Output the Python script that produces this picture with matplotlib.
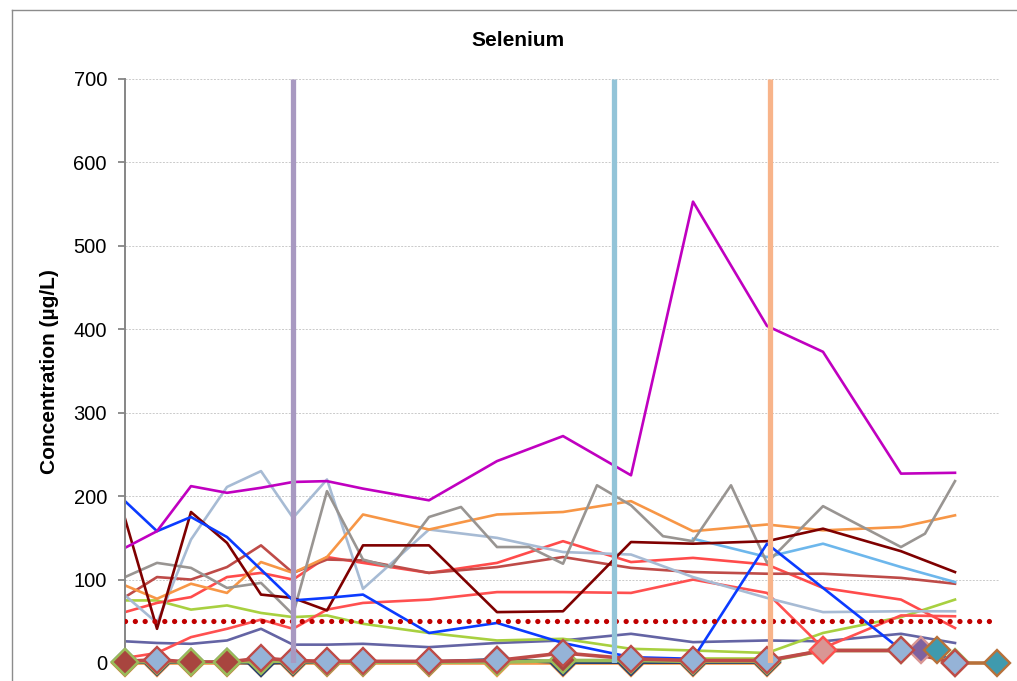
import matplotlib.pyplot as plt
from matplotlib.lines import Line2D

plt.rcParams['font.family'] = ['Liberation Sans', 'DejaVu Sans']

# sampling days (main sampling rounds)
days = [0, 16, 33, 51, 68, 84, 101, 119, 152, 186, 219, 253, 284, 321, 349, 388, 415]

# well series, Se in ug/L
se_magenta = [138, 158, 212, 204, 210, 217, 218, 209, 195, 242, 272, 225, 553, 404, 373, 227, 228]
se_blue = [194, 158, 175, 151, 112, 75, 78, 82, 36, 48, 24, 7, 5, 143, 90, 16, 5]
se_darkred = [173, 41, 181, 144, 82, 78, 63, 141, 141, 61, 62, 145, 143, 146, 161, 134, 109]
se_steel = [81, 48, 148, 211, 230, 174, 220, 89, 160, 150, 133, 130, 103, 78, 61, 62, 62]
se_orange = [93, 77, 95, 84, 121, 108, 127, 178, 160, 178, 181, 194, 158, 166, 159, 163, 177]
se_brick = [79, 103, 100, 115, 141, 108, 124, 123, 108, 115, 127, 114, 109, 107, 107, 102, 95]
se_red1 = [61, 72, 79, 103, 108, 100, 127, 120, 108, 120, 146, 121, 126, 118, 90, 76, 42]
se_red2 = [6, 12, 31, 41, 52, 41, 64, 72, 76, 85, 85, 84, 100, 84, 18, 57, 56]
se_lime = [75, 75, 64, 69, 60, 55, 57, 47, 36, 27, 29, 17, 15, 12, 36, 55, 76]
se_slate = [26, 24, 23, 27, 41, 22, 22, 23, 19, 24, 27, 35, 25, 27, 26, 35, 24]

# gray well was sampled more often
gray_days = [0, 16, 33, 51, 68, 84, 101, 119, 133, 152, 168, 186, 202, 219, 236, 253,
             269, 284, 303, 321, 349, 388, 400, 415]
se_gray = [103, 120, 114, 90, 96, 58, 206, 124, 115, 175, 187, 139, 139, 119, 213, 189,
           152, 146, 213, 120, 188, 139, 155, 218]

# late additions
sky_days = [284, 321, 349, 388, 415]
se_sky = [149, 127, 143, 115, 97]
lime2_days = [284, 321]
se_lime2 = [6, 6]

# wells near detection limit
low_navy = [1, 1, 1, 1, 0, 1, 1, 1, 1, 4, 1, 1, 1, 1]
low_orange = [0, 0, 0, 0, 0, 0, 0, 0, 0, 0, 0, 0, 0, 0]
low_olive = [1, 2, 1, 1, 2, 2, 1, 1, 1, 1, 3, 3, 2, 2, 15, 15, 1]
low_red = [2, 4, 1, 1, 6, 3, 2, 2, 2, 3, 12, 5, 3, 3, 15, 15, 0]
pink_day, se_pink = 349, 16
purple_day, se_purple = 398, 16
teal_day, se_teal = 406, 16
teal2_days = [415, 436]
se_teal2 = [0, 0]

limit = 50
events = [84, 244.5, 322.5]
event_colors = ['#A899C1', '#93C4D8', '#F8B48A']

fig = plt.figure(figsize=(10.17, 6.81), dpi=100)
ax = fig.add_axes([125 / 1017, 1 - 663 / 681, 874 / 1017, 584 / 681])

lw = 1.9
ax.plot(days, se_slate, color='#6464A4', lw=lw)
ax.plot(days, se_lime, color='#A8D040', lw=lw)
ax.plot(lime2_days, se_lime2, color='#A8D040', lw=lw)
ax.plot(days, se_red2, color='#FF5050', lw=lw)
ax.plot(days, se_red1, color='#FF4B4B', lw=lw)
ax.plot(days, se_brick, color='#BE4B48', lw=lw)
ax.plot(sky_days, se_sky, color='#6DB7EC', lw=lw)
ax.plot(days, se_steel, color='#A7BBD4', lw=lw)
ax.plot(days, se_orange, color='#F79646', lw=lw)
ax.plot(gray_days, se_gray, color='#999592', lw=lw)
ax.plot(days, se_darkred, color='#7F0000', lw=lw)
ax.plot(days, se_blue, color='#0B3BFF', lw=lw)
ax.plot(days, se_magenta, color='#C000C0', lw=lw)

# low-concentration wells with markers
mk = dict(marker='D', ms=13, mew=1.7, clip_on=False)
ax.plot(days[:14], low_orange, color='#F79646', mfc='#F79646', mec='#F79646', lw=2.6, **mk)
ax.plot(days[:14], low_navy, color='#243F73', mfc='#95B3D7', mec='#243F73', lw=2.6, **mk)
ax.plot(days, low_olive, color='#9BBB59', mfc='#A8453F', mec='#9BBB59', lw=2.6, **mk)
ax.plot(days, low_red, color='#BE4B48', lw=2.6, zorder=3)
keep = [1, 4, 5, 6, 7, 8, 9, 10, 11, 12, 13, 15, 16]
ax.plot([days[i] for i in keep], [low_red[i] for i in keep], ls='none',
        mfc='#95B3D7', mec='#BE4B48', zorder=3.1, **mk)
ax.plot([days[i] for i in [0, 2, 3]], [low_olive[i] for i in [0, 2, 3]], ls='none',
        mfc='#A8453F', mec='#9BBB59', zorder=3.2, **mk)
ax.plot([pink_day], [se_pink], ls='none', mfc='#D99694', mec='#FF5050', zorder=3.2, **mk)
ax.plot([purple_day], [se_purple], ls='none', mfc='#7E62A0', mec='#D99694', zorder=3.0, **mk)
ax.plot([teal_day], [se_teal], ls='none', mfc='#3F9AAE', mec='#B7713A', zorder=3.05, **mk)
ax.plot(teal2_days, se_teal2, color='#B7713A', lw=2.6, mfc='#3F9AAE', mec='#B7713A',
        zorder=2.9, **mk)

# guideline
ax.hlines(limit, 0, 434, colors='#C00000', lw=3.8, linestyles=(0, (0.01, 1.85)),
          capstyle='round', zorder=4)
for ev, c in zip(events, event_colors):
    ax.vlines(ev, 0, 700, colors=c, lw=3.8, zorder=5)

ax.set_xlim(0, 437)
ax.set_ylim(0, 700)
ax.set_yticks(range(0, 701, 100))
ax.yaxis.grid(True, color='#CACACA', linestyle=(0, (2, 1.5)), lw=0.7)
ax.set_axisbelow(True)
ax.tick_params(axis='y', labelsize=14.5, length=5, width=1.3, color='#868686', pad=8)
ax.tick_params(axis='x', bottom=False, labelbottom=False)
for s in ['top', 'right', 'bottom']:
    ax.spines[s].set_visible(False)
ax.spines['left'].set_color('#868686')
ax.spines['left'].set_linewidth(1.4)

fig.text(518 / 1017, 1 - 41 / 681, 'Selenium', ha='center', va='center',
         fontsize=15, fontweight='bold')
fig.text(50 / 1017, 1 - 372 / 681, 'Concentration (µg/L)', rotation=90,
         ha='center', va='center', fontsize=15, fontweight='bold')

# chart-area frame (top and left edges)
x0, y0 = 12 / 1017, 1 - 10 / 681
fig.add_artist(Line2D([x0, 1.05], [y0, y0], transform=fig.transFigure, color='#8C8C8C', lw=1))
fig.add_artist(Line2D([x0, x0], [-0.05, y0], transform=fig.transFigure, color='#8C8C8C', lw=1))

fig.savefig('out.png', dpi=100)
